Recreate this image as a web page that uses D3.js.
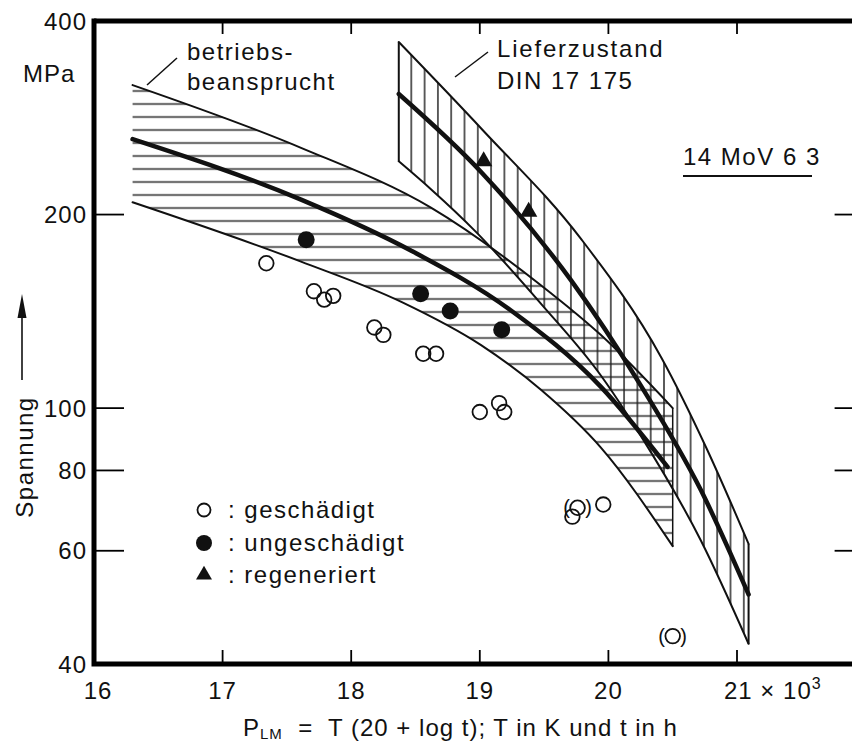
<!DOCTYPE html>
<html><head><meta charset="utf-8">
<script src="https://cdn.jsdelivr.net/npm/d3@7"></script>
<style>
body{margin:0;background:#fff}
svg text{font-family:"Liberation Sans",Arial,Helvetica,sans-serif;fill:#111;white-space:pre}
</style></head><body>
<svg id="c" width="852" height="744"></svg>
<script>
// ---- tick data ----
const xTicks = [16, 17, 18, 19, 20, 21];
const xTickLabels = ["16", "17", "18", "19", "20", "21"];
const yLabelTicks = [400, 200, 100, 80, 60, 40];
const yLabelText = ["400", "200", "100", "80", "60", "40"];
const yInnerTicks = [200, 100, 80, 60];

// ---- band "betriebsbeansprucht" (P in 10^3, stress in MPa) ----
const band1UpperP = [16.30, 17.61, 18.62, 19.48, 19.94, 20.50];
const band1UpperS = [318, 254, 205, 155, 130, 100];
const band1MeanP  = [16.30, 17.61, 18.46, 19.24, 19.94, 20.46];
const band1MeanS  = [262, 211, 176, 142, 108, 81];
const band1LowerP = [16.30, 17.61, 18.39, 19.01, 19.48, 19.94, 20.50];
const band1LowerS = [209, 169, 146.3, 125.3, 106.6, 86.9, 61];

// ---- band "Lieferzustand DIN 17 175" ----
const band2UpperP = [18.37, 19.02, 19.79, 20.41, 20.77, 21.09];
const band2UpperS = [371, 271, 183, 120, 86, 61.5];
const band2MeanP  = [18.37, 19.01, 19.71, 20.25, 20.72, 21.09];
const band2MeanS  = [308, 233, 158, 108.6, 74.5, 51.3];
const band2LowerP = [18.37, 18.62, 18.97, 19.48, 19.94, 20.25, 20.72, 21.09];
const band2LowerS = [242, 219, 188, 145, 112.5, 90.7, 62.2, 43];

// ---- test points ----
const damagedP = [17.34, 17.71, 17.79, 17.86, 18.18, 18.25, 18.56, 18.66, 19.00, 19.15, 19.19, 19.76, 19.72, 19.96, 20.50];
const damagedS = [168, 152, 147.5, 149.5, 133.5, 130, 121.5, 121.5, 98.6, 101.8, 98.6, 70.0, 67.8, 70.8, 44.2];
const damagedParen = [false, false, false, false, false, false, false, false, false, false, false, true, false, false, true];
const undamagedP = [17.65, 18.54, 18.77, 19.17];
const undamagedS = [182.8, 150.6, 141.6, 132.4];
const regenP = [19.03, 19.38];
const regenS = [242, 202];

const svg = d3.select("#c");
const x = d3.scaleLinear().domain([16, 21]).range([94, 737]);
const y = d3.scaleLog().domain([40, 400]).range([664, 21]);
const xRight = x(22);

// patterns
const defs = svg.append("defs");
const pH = defs.append("pattern").attr("id", "hatchH").attr("patternUnits", "userSpaceOnUse")
  .attr("width", 20).attr("height", 13).attr("x", 0).attr("y", 97.5);
pH.append("line").attr("x1", 0).attr("x2", 20).attr("y1", 6.5).attr("y2", 6.5)
  .attr("stroke", "#1a1a1a").attr("stroke-width", 1.4);
const pV = defs.append("pattern").attr("id", "hatchV").attr("patternUnits", "userSpaceOnUse")
  .attr("width", 13.3).attr("height", 20).attr("x", 398 - 6.65).attr("y", 0);
pV.append("line").attr("x1", 6.65).attr("x2", 6.65).attr("y1", 0).attr("y2", 20)
  .attr("stroke", "#1a1a1a").attr("stroke-width", 1.4);

const lineGen = d3.line().curve(d3.curveMonotoneX);
const pts = (P, S) => P.map((p, i) => [x(p), y(S[i])]);

function band(upP, upS, loP, loS, pat) {
  const up = pts(upP, upS), lo = pts(loP, loS).reverse();
  const d = lineGen(up) + "L" + lineGen(lo).slice(1) + "Z";
  svg.append("path").attr("d", d).attr("fill", "url(#" + pat + ")").attr("stroke", "none");
  return {up, lo: lo.slice().reverse()};
}
const b1 = band(band1UpperP, band1UpperS, band1LowerP, band1LowerS, "hatchH");
const b2 = band(band2UpperP, band2UpperS, band2LowerP, band2LowerS, "hatchV");

function edge(p, w) {
  svg.append("path").attr("d", lineGen(p)).attr("fill", "none").attr("stroke", "#111")
    .attr("stroke-width", w).attr("stroke-linecap", "round");
}
edge(b1.up, 2); edge(b1.lo, 2);
edge(b2.up, 2); edge(b2.lo, 2);
// band ends
svg.append("line").attr("x1", b1.up[b1.up.length-1][0]).attr("x2", b1.lo[b1.lo.length-1][0])
  .attr("y1", b1.up[b1.up.length-1][1]).attr("y2", b1.lo[b1.lo.length-1][1]).attr("stroke", "#111").attr("stroke-width", 1.5);
[[0, 0], [b2.up.length-1, b2.lo.length-1]].forEach(([i, j]) => {
  svg.append("line").attr("x1", b2.up[i][0]).attr("x2", b2.lo[j][0]).attr("y1", b2.up[i][1]).attr("y2", b2.lo[j][1])
    .attr("stroke", "#111").attr("stroke-width", 2);
});
edge(pts(band1MeanP, band1MeanS), 4.5);
edge(pts(band2MeanP, band2MeanS), 4.5);

// frame
const fr = svg.append("g").attr("stroke", "#000").attr("fill", "none");
fr.append("path").attr("d", `M${x(16)},${y(400)}H${xRight}`).attr("stroke-width", 5);
fr.append("path").attr("d", `M${x(16)},${y(400)-2.5}V${y(40)}H${xRight}`).attr("stroke-width", 5);
fr.append("path").attr("d", `M${xRight},${y(400)}V${y(40)}`).attr("stroke-width", 5);
// ticks
xTicks.slice(1).forEach(t => {
  fr.append("line").attr("x1", x(t)).attr("x2", x(t)).attr("y1", y(40)).attr("y2", y(40) - 14).attr("stroke-width", 1.8);
  fr.append("line").attr("x1", x(t)).attr("x2", x(t)).attr("y1", y(400)).attr("y2", y(400) + 13).attr("stroke-width", 1.8);
});
yInnerTicks.forEach(t => {
  fr.append("line").attr("x1", x(16)).attr("x2", x(16) + 30).attr("y1", y(t)).attr("y2", y(t)).attr("stroke-width", 1.8);
  fr.append("line").attr("x1", xRight).attr("x2", xRight - 31).attr("y1", y(t)).attr("y2", y(t)).attr("stroke-width", 1.8);
});

// tick labels
const txt = (xx, yy, s, opt = {}) => svg.append("text").attr("x", xx).attr("y", yy)
  .attr("font-size", opt.fs || 24).attr("letter-spacing", opt.ls != null ? opt.ls : 1)
  .attr("text-anchor", opt.anchor || "start").text(s);
yLabelTicks.forEach((t, i) => {
  txt(87, y(t), yLabelText[i], {anchor: "end"}).attr("dy", "0.36em");
});
txt(23, 82, "MPa", {ls: 1});
xTicks.slice(0, 5).forEach((t, i) => {
  txt(x(t) + (i === 0 ? 4 : 0), 699, xTickLabels[i], {anchor: "middle"});
});
const t21 = svg.append("text").attr("x", x(21) - 13).attr("y", 699).attr("font-size", 24).attr("letter-spacing", 1);
t21.append("tspan").text(xTickLabels[5] + " \u00d7 10");
t21.append("tspan").attr("font-size", 16).attr("dy", -10).text("3");

// x title
const xt = svg.append("text").attr("x", 243).attr("y", 736).attr("font-size", 24).attr("letter-spacing", 1);
xt.append("tspan").text("P");
xt.append("tspan").attr("font-size", 15).attr("dy", 3).text("LM");
xt.append("tspan").attr("dy", -3).text("  =  T (20 + log t); T in K und t in h");

// y title with arrow
svg.append("text").attr("transform", "translate(33,457) rotate(-90)").attr("text-anchor", "middle")
  .attr("font-size", 24).attr("letter-spacing", 1.5).text("Spannung");
svg.append("line").attr("x1", 22).attr("x2", 22).attr("y1", 380).attr("y2", 312).attr("stroke", "#111").attr("stroke-width", 1.6);
svg.append("path").attr("d", "M22,294L17.5,318L26.5,318Z").attr("fill", "#111");

// annotations
txt(187, 60, "betriebs-", {ls: 1.5});
txt(187, 90, "beansprucht", {ls: 1.5});
svg.append("line").attr("x1", 147).attr("y1", 85).attr("x2", 177).attr("y2", 58).attr("stroke", "#111").attr("stroke-width", 1.5);
txt(497, 57, "Lieferzustand", {ls: 1.8});
txt(497, 89, "DIN 17 175", {ls: 1.5});
svg.append("line").attr("x1", 455).attr("y1", 77).attr("x2", 488).attr("y2", 52).attr("stroke", "#111").attr("stroke-width", 1.5);
txt(683, 165, "14 MoV 6 3", {ls: 1.5});
svg.append("line").attr("x1", 683).attr("x2", 812).attr("y1", 176).attr("y2", 176).attr("stroke", "#111").attr("stroke-width", 1.8);

// points
damagedP.forEach((p, i) => {
  const cx = x(p), cy = y(damagedS[i]);
  svg.append("circle").attr("cx", cx).attr("cy", cy).attr("r", 7.3).attr("fill", "none").attr("stroke", "#111").attr("stroke-width", 1.8);
  if (damagedParen[i]) {
    txt(cx - 11, cy, "(", {fs: 20, ls: 0, anchor: "middle"}).attr("dy", "0.33em");
    txt(cx + 11, cy, ")", {fs: 20, ls: 0, anchor: "middle"}).attr("dy", "0.33em");
  }
});
undamagedP.forEach((p, i) => {
  svg.append("circle").attr("cx", x(p)).attr("cy", y(undamagedS[i])).attr("r", 8.5).attr("fill", "#111");
});
const tri = d3.symbol().type(d3.symbolTriangle).size(130);
regenP.forEach((p, i) => {
  svg.append("path").attr("d", tri()).attr("transform", `translate(${x(p)},${y(regenS[i])})`).attr("fill", "#111");
});

// legend
const legY = [510, 543, 575];
const legText = [": geschädigt", ": ungeschädigt", ": regeneriert"];
svg.append("circle").attr("cx", 204).attr("cy", legY[0]).attr("r", 6.5).attr("fill", "none").attr("stroke", "#111").attr("stroke-width", 1.8);
svg.append("circle").attr("cx", 204).attr("cy", legY[1]).attr("r", 8).attr("fill", "#111");
svg.append("path").attr("d", tri.size(110)()).attr("transform", `translate(204,${legY[2]})`).attr("fill", "#111");
legText.forEach((s, i) => txt(228, legY[i] + 8, s, {ls: 1.5}));
</script>
</body></html>
